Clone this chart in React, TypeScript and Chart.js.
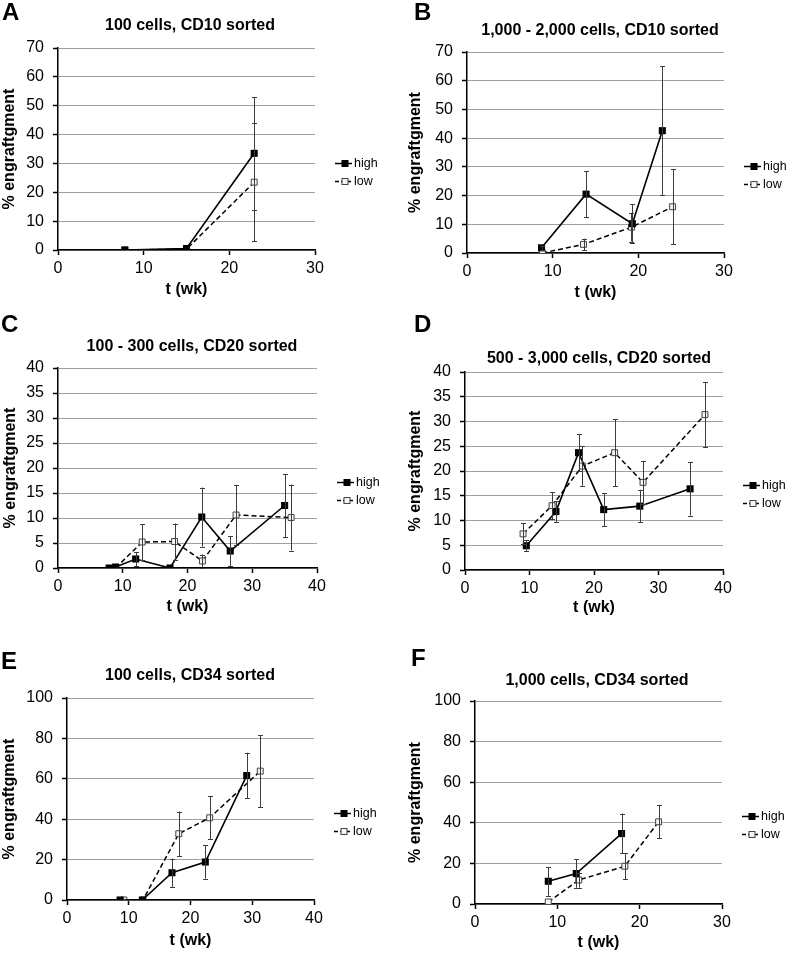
import React, { useEffect, useRef } from "react";
import { Chart, registerables } from "chart.js";

Chart.register(...registerables);

const FONT = "'Liberation Sans', Arial, Helvetica, sans-serif";

const seriesNames = ["high", "low"];
const xAxisTitle = "t (wk)";
const yAxisTitle = "% engraftgment";

// ---- Panel A ----
const aTitle = "100 cells, CD10 sorted";
const aXTicks = [0, 10, 20, 30];
const aYTicks = [0, 10, 20, 30, 40, 50, 60, 70];
const aHighT = [7.8, 15.0, 22.9];
const aHighY = [0, 0.5, 33.5];
const aHighErr = [0, 0, 19.5];
const aLowT = [7.8, 15.0, 22.9];
const aLowY = [0, 0.3, 23.5];
const aLowErr = [0, 0, 20.5];

// ---- Panel B ----
const bTitle = "1,000 - 2,000 cells, CD10 sorted";
const bXTicks = [0, 10, 20, 30];
const bYTicks = [0, 10, 20, 30, 40, 50, 60, 70];
const bHighT = [8.7, 13.9, 19.3, 22.8];
const bHighY = [1.8, 20.5, 10.2, 42.6];
const bHighErr = [0.6, 8.0, 6.8, 22.4];
const bLowT = [8.8, 13.6, 19.2, 24.0];
const bLowY = [0, 3.0, 9.0, 16.1];
const bLowErr = [0, 2.0, 5.0, 13.0];

// ---- Panel C ----
const cTitle = "100 - 300 cells, CD20 sorted";
const cXTicks = [0, 10, 20, 30, 40];
const cYTicks = [0, 5, 10, 15, 20, 25, 30, 35, 40];
const cHighT = [7.9, 8.9, 12.0, 17.3, 22.2, 26.6, 35.0];
const cHighY = [0, 0.2, 1.8, 0, 10.2, 3.4, 12.5];
const cHighErr = [0, 0, 1.4, 0, 5.9, 3.0, 6.3];
const cLowT = [8.9, 13.0, 18.0, 22.3, 27.5, 36.0];
const cLowY = [0, 5.2, 5.3, 1.4, 10.6, 10.1];
const cLowErr = [0, 3.6, 3.6, 1.3, 6.0, 6.6];

// ---- Panel D ----
const dTitle = "500 - 3,000 cells, CD20 sorted";
const dXTicks = [0, 10, 20, 30, 40];
const dYTicks = [0, 5, 10, 15, 20, 25, 30, 35, 40];
const dHighT = [9.5, 14.1, 17.6, 21.5, 27.1, 34.9];
const dHighY = [4.9, 11.8, 23.7, 12.2, 12.9, 16.4];
const dHighErr = [1.1, 2.1, 3.8, 3.3, 3.3, 5.4];
const dLowT = [9.0, 13.5, 18.2, 23.2, 27.6, 37.2];
const dLowY = [7.3, 13.0, 21.0, 23.7, 17.7, 31.4];
const dLowErr = [2.1, 2.7, 4.0, 6.8, 4.3, 6.6];

// ---- Panel E ----
const eTitle = "100 cells, CD34 sorted";
const eXTicks = [0, 10, 20, 30, 40];
const eYTicks = [0, 20, 40, 60, 80, 100];
const eHighT = [8.6, 12.2, 17.0, 22.4, 29.1];
const eHighY = [0, 0, 13.5, 18.8, 61.6];
const eHighErr = [0, 0, 7.0, 8.2, 11.3];
const eLowT = [9.2, 12.3, 18.1, 23.1, 31.3];
const eLowY = [0, 0, 32.8, 40.7, 63.8];
const eLowErr = [0, 0, 11.0, 10.7, 17.8];

// ---- Panel F ----
const fTitle = "1,000 cells, CD34 sorted";
const fXTicks = [0, 10, 20, 30];
const fYTicks = [0, 20, 40, 60, 80, 100];
const fHighT = [8.9, 12.3, 17.8];
const fHighY = [11.2, 15.0, 34.7];
const fHighErr = [7.1, 7.0, 9.8];
const fLowT = [8.9, 12.6, 18.2, 22.3];
const fLowY = [1.0, 11.8, 18.6, 40.5];
const fLowErr = [0, 3.7, 6.5, 8.1];

type PanelData = {
  letter: string;
  title: string;
  xTicks: number[];
  yTicks: number[];
  high: [number[], number[], number[]];
  low: [number[], number[], number[]];
};

const panelData: PanelData[] = [
  { letter: "A", title: aTitle, xTicks: aXTicks, yTicks: aYTicks, high: [aHighT, aHighY, aHighErr], low: [aLowT, aLowY, aLowErr] },
  { letter: "B", title: bTitle, xTicks: bXTicks, yTicks: bYTicks, high: [bHighT, bHighY, bHighErr], low: [bLowT, bLowY, bLowErr] },
  { letter: "C", title: cTitle, xTicks: cXTicks, yTicks: cYTicks, high: [cHighT, cHighY, cHighErr], low: [cLowT, cLowY, cLowErr] },
  { letter: "D", title: dTitle, xTicks: dXTicks, yTicks: dYTicks, high: [dHighT, dHighY, dHighErr], low: [dLowT, dLowY, dLowErr] },
  { letter: "E", title: eTitle, xTicks: eXTicks, yTicks: eYTicks, high: [eHighT, eHighY, eHighErr], low: [eLowT, eLowY, eLowErr] },
  { letter: "F", title: fTitle, xTicks: fXTicks, yTicks: fYTicks, high: [fHighT, fHighY, fHighErr], low: [fLowT, fLowY, fLowErr] },
];

// Layout (page pixel coordinates)
type Layout = {
  x0: number; y0: number; w: number; h: number;
  L: number; T: number; R: number; B: number;
  titleX: number; titleY: number; yLabX: number; xLabY: number;
  letterX: number; letterY: number;
};

const layouts: Layout[] = [
  { x0: 0, y0: 0, w: 393, h: 302, L: 58, T: 48, R: 315, B: 250, titleX: 190, titleY: 25.5, yLabX: 9, xLabY: 290, letterX: 2, letterY: 3 },
  { x0: 393, y0: 0, w: 394, h: 304, L: 467, T: 52, R: 724, B: 253, titleX: 600, titleY: 30.5, yLabX: 416, xLabY: 293, letterX: 414, letterY: 3 },
  { x0: 0, y0: 300, w: 393, h: 320, L: 58, T: 368, R: 317, B: 568, titleX: 192, titleY: 346.7, yLabX: 11, xLabY: 607, letterX: 1, letterY: 315 },
  { x0: 393, y0: 300, w: 394, h: 320, L: 465, T: 372, R: 723, B: 570, titleX: 599, titleY: 359, yLabX: 416, xLabY: 608, letterX: 414, letterY: 315 },
  { x0: 0, y0: 620, w: 393, h: 334, L: 67, T: 698, R: 314, B: 900, titleX: 190, titleY: 676, yLabX: 9, xLabY: 941, letterX: 1, letterY: 652 },
  { x0: 393, y0: 620, w: 394, h: 334, L: 475, T: 701, R: 722, B: 904, titleX: 597, titleY: 681, yLabX: 416, xLabY: 943, letterX: 411, letterY: 649 },
];

const TICK_SIZE = 16;
const AXIS_TITLE_SIZE = 16;
const TITLE_SIZE = 16;

const errorBarPlugin = {
  id: "errorBars",
  afterDatasetsDraw(chart: any) {
    const ctx = chart.ctx;
    const yScale = chart.scales.y;
    ctx.save();
    ctx.strokeStyle = "#3c3c3c";
    ctx.lineWidth = 1;
    ctx.setLineDash([]);
    chart.data.datasets.forEach((ds: any, di: number) => {
      const meta = chart.getDatasetMeta(di);
      const errs: number[] = ds.errors || [];
      meta.data.forEach((pt: any, i: number) => {
        const e = errs[i];
        if (!e) return;
        const v = ds.data[i].y;
        const x = Math.round(pt.x) + 0.5;
        const yt = yScale.getPixelForValue(v + e);
        const yb = yScale.getPixelForValue(Math.max(v - e, yScale.min));
        ctx.beginPath();
        ctx.moveTo(x, yt);
        ctx.lineTo(x, yb);
        ctx.moveTo(x - 2.5, Math.round(yt) + 0.5);
        ctx.lineTo(x + 2.5, Math.round(yt) + 0.5);
        ctx.moveTo(x - 2.5, Math.round(yb) + 0.5);
        ctx.lineTo(x + 2.5, Math.round(yb) + 0.5);
        ctx.stroke();
      });
    });
    ctx.restore();
  },
};

const decoPlugin = {
  id: "deco",
  afterDraw(chart: any) {
    const opts = chart.options.plugins.deco;
    if (!opts) return;
    const ctx = chart.ctx;
    const area = chart.chartArea;
    ctx.save();
    // Title
    ctx.fillStyle = "#000";
    ctx.font = `bold ${TITLE_SIZE}px ${FONT}`;
    ctx.textAlign = "center";
    ctx.textBaseline = "middle";
    ctx.fillText(opts.title, opts.titleX, opts.titleY);
    // Legend
    const lx = area.right + 20;
    const cy = (area.top + area.bottom) / 2;
    chart.data.datasets.forEach((ds: any, i: number) => {
      const y = Math.round(cy + 13.5 + i * 18) + 0.5;
      ctx.save();
      ctx.strokeStyle = "#000";
      ctx.lineWidth = 1.5;
      ctx.setLineDash(i === 0 ? [] : [4, 2]);
      ctx.beginPath();
      ctx.moveTo(lx, y);
      ctx.lineTo(lx + 17, y);
      ctx.stroke();
      ctx.setLineDash([]);
      const mx = lx + 10;
      if (i === 0) {
        ctx.fillStyle = "#000";
        ctx.fillRect(mx - 3.5, y - 3.5, 7, 7);
      } else {
        ctx.fillStyle = "#f4f4f4";
        ctx.fillRect(mx - 3, y - 3, 6, 6);
        ctx.strokeStyle = "#444";
        ctx.lineWidth = 1;
        ctx.strokeRect(mx - 3, y - 3, 6, 6);
      }
      ctx.restore();
      ctx.fillStyle = "#000";
      ctx.font = `12.5px ${FONT}`;
      ctx.textAlign = "left";
      ctx.textBaseline = "middle";
      ctx.fillText(ds.label, lx + 19, y);
    });
    ctx.restore();
  },
};

function Panel({ data, lay }: { data: PanelData; lay: Layout }) {
  const ref = useRef<HTMLCanvasElement>(null);
  useEffect(() => {
    const canvas = ref.current;
    if (!canvas) return;
    const xMin = data.xTicks[0];
    const xMax = data.xTicks[data.xTicks.length - 1];
    const xStep = data.xTicks[1] - data.xTicks[0];
    const yMin = data.yTicks[0];
    const yMax = data.yTicks[data.yTicks.length - 1];
    const yStep = data.yTicks[1] - data.yTicks[0];
    const toPts = (s: [number[], number[], number[]]) => s[0].map((t, i) => ({ x: t, y: s[1][i] }));
    const halfLH = (AXIS_TITLE_SIZE * 1.2) / 2;
    const chart = new Chart(canvas, {
      type: "scatter",
      data: {
        datasets: [
          {
            label: seriesNames[0],
            data: toPts(data.high),
            errors: data.high[2],
            showLine: true,
            borderColor: "#000",
            borderWidth: 1.6,
            pointStyle: "rect",
            pointRadius: 5,
            pointBackgroundColor: "#000",
            pointBorderColor: "#000",
            pointBorderWidth: 0,
          } as any,
          {
            label: seriesNames[1],
            data: toPts(data.low),
            errors: data.low[2],
            showLine: true,
            borderColor: "#000",
            borderWidth: 1.5,
            borderDash: [5, 3],
            pointStyle: "rect",
            pointRadius: 4.2,
            pointBackgroundColor: "#f4f4f4",
            pointBorderColor: "#444",
            pointBorderWidth: 1,
          } as any,
        ],
      },
      options: {
        animation: false,
        responsive: false,
        devicePixelRatio: 1,
        events: [],
        layout: {
          padding: { left: 0, top: lay.T - lay.y0, right: lay.x0 + lay.w - lay.R, bottom: 0 },
        },
        plugins: {
          legend: { display: false },
          title: { display: false },
          tooltip: { enabled: false },
          deco: {
            title: data.title,
            titleX: lay.titleX - lay.x0,
            titleY: lay.titleY - lay.y0,
          },
        } as any,
        scales: {
          x: {
            type: "linear",
            min: xMin,
            max: xMax,
            ticks: {
              stepSize: xStep,
              color: "#000",
              font: { family: FONT, size: TICK_SIZE },
              padding: 4,
              maxRotation: 0,
            },
            grid: {
              drawOnChartArea: false,
              drawTicks: true,
              tickLength: 5,
              tickColor: "#000",
              tickWidth: 1.5,
            },
            border: { color: "#000", width: 1.5 },
            title: {
              display: true,
              text: xAxisTitle,
              color: "#000",
              font: { family: FONT, size: AXIS_TITLE_SIZE, weight: "bold" },
              padding: { top: 0, bottom: Math.max(0, lay.y0 + lay.h - lay.xLabY - halfLH) },
            },
            afterFit: (s: any) => {
              s.height = lay.y0 + lay.h - lay.B;
            },
          },
          y: {
            type: "linear",
            min: yMin,
            max: yMax,
            ticks: {
              stepSize: yStep,
              color: "#000",
              font: { family: FONT, size: TICK_SIZE },
              padding: 9,
            },
            grid: {
              color: "#a0a0a0",
              lineWidth: 1,
              drawTicks: true,
              tickLength: 5,
              tickColor: "#000",
              tickWidth: 1.5,
            },
            border: { color: "#000", width: 1.5 },
            title: {
              display: true,
              text: yAxisTitle,
              color: "#000",
              font: { family: FONT, size: AXIS_TITLE_SIZE, weight: "bold" },
              padding: { top: Math.max(0, lay.yLabX - lay.x0 - halfLH), bottom: 0 },
            },
            afterFit: (s: any) => {
              s.width = lay.L - lay.x0;
            },
          },
        } as any,
      },
      plugins: [errorBarPlugin, decoPlugin],
    } as any);
    return () => chart.destroy();
  }, [data, lay]);
  return (
    <>
      <canvas
        ref={ref}
        width={lay.w}
        height={lay.h}
        style={{ position: "absolute", left: lay.x0, top: lay.y0, width: lay.w, height: lay.h, display: "block" }}
      />
      <div
        style={{
          position: "absolute",
          left: lay.letterX,
          top: lay.letterY - 3,
          fontFamily: FONT,
          fontWeight: "bold",
          fontSize: 24,
          lineHeight: 1,
          color: "#000",
        }}
      >
        {data.letter}
      </div>
    </>
  );
}

export default function App() {
  return (
    <div style={{ position: "absolute", left: 0, top: 0, width: 787, height: 954, background: "#fff", overflow: "hidden" }}>
      {panelData.map((d, i) => (
        <Panel key={d.letter} data={d} lay={layouts[i]} />
      ))}
    </div>
  );
}
